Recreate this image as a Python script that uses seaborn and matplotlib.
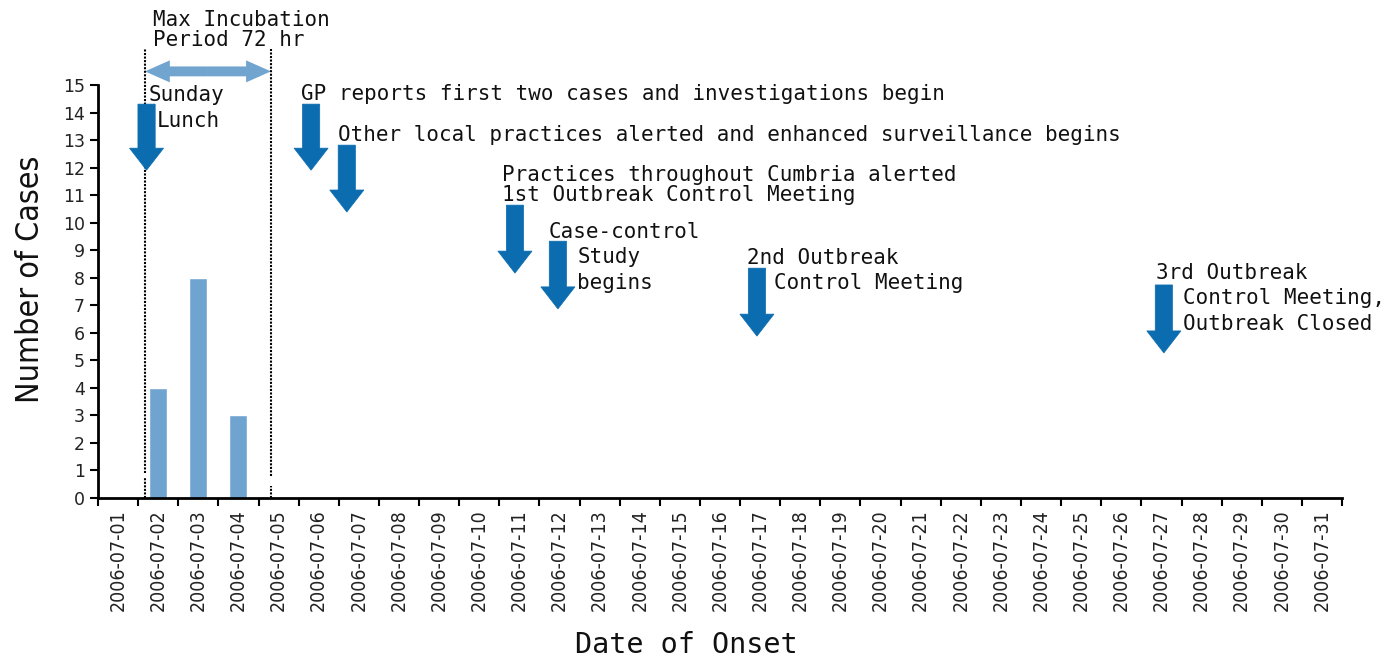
import pandas as pd
import matplotlib
matplotlib.use("Agg")
import matplotlib.pyplot as plt
import seaborn as sns
from matplotlib.patches import FancyArrow

# data
dates = [f"2006-07-{d:02d}" for d in range(1, 32)]
cases = [0, 4, 8, 3] + [0] * 27

# incubation window (category units) and annotation arrows
incub_start, incub_end = 0.67, 3.81
arrow_x = [0.71, 4.81, 5.70, 9.89, 10.96, 15.92, 26.06]
arrow_top = [14.31, 14.31, 12.82, 10.64, 9.33, 8.35, 7.74]
arrow_tip = [11.91, 11.91, 10.39, 8.17, 6.87, 5.88, 5.27]

labels = [
    (0.87, 17.36, "Max Incubation"),
    (0.87, 16.64, "Period 72 hr"),
    (0.77, 14.64, "Sunday"),
    (0.97, 13.69, "Lunch"),
    (4.56, 14.67, "GP reports first two cases and investigations begin"),
    (5.48, 13.19, "Other local practices alerted and enhanced surveillance begins"),
    (9.57, 11.73, "Practices throughout Cumbria alerted"),
    (9.57, 11.01, "1st Outbreak Control Meeting"),
    (10.74, 9.66, "Case-control"),
    (11.44, 8.75, "Study"),
    (11.44, 7.81, "begins"),
    (15.67, 8.72, "2nd Outbreak"),
    (16.35, 7.81, "Control Meeting"),
    (25.86, 8.17, "3rd Outbreak"),
    (26.54, 7.26, "Control Meeting,"),
    (26.54, 6.32, "Outbreak Closed"),
]

df = pd.DataFrame({"date": dates, "cases": cases})

sns.set_theme(style="ticks")
mono = ["DejaVu Sans Mono", "DejaVu Sans"]

fig = plt.figure(figsize=(14, 6.6), dpi=100)
ax = fig.add_axes([0.07, 0.2455, 0.8886, 0.6255])

sns.barplot(data=df, x="date", y="cases", color="#70a4d0", width=0.45,
            saturation=1, ax=ax)

ax.set_xlim(-0.5, len(dates) - 0.5)
ax.set_ylim(0, 15)
ax.set_yticks(range(0, 16))
ax.set_xticks([i - 0.5 for i in range(len(dates) + 1)], minor=False)
ax.set_xticklabels([])
ax.set_xticks(range(len(dates)), minor=True)
ax.set_xticklabels(dates, minor=True, rotation=90, fontsize=14,
                   family="DejaVu Sans", fontstretch="condensed", color="#222222")
ax.tick_params(axis="x", which="minor", length=0, pad=8)
ax.tick_params(axis="x", which="major", length=6, width=1.5, color="black")
ax.tick_params(axis="y", length=6, width=1.5, color="black", labelsize=12.5,
               labelcolor="#222222")
for s in ["left", "bottom"]:
    ax.spines[s].set_linewidth(2)
    ax.spines[s].set_color("black")
sns.despine(ax=ax)

ax.set_xlabel("Date of Onset", fontsize=20.5, family=mono, color="#111111")
ax.xaxis.set_label_coords(0.4727, -0.356)
ax.xaxis.label.set_va("center")
ax.set_ylabel("Number of Cases", fontsize=23, family="DejaVu Sans",
              fontstretch="condensed", color="#111111")
ax.yaxis.set_label_coords(-0.0545, 0.53)
ax.yaxis.label.set_va("center")

# incubation window lines (with a small break near the baseline)
for x0, gap in [(incub_start, (0.75, 0.9)), (incub_end, (0.45, 0.8))]:
    for y0, y1 in [(0, gap[0]), (gap[1], 16.3)]:
        ax.plot([x0, x0], [y0, y1], ls=(0, (1, 0.7)), color="black", lw=1.5,
                clip_on=False)

mid = (incub_start + incub_end) / 2
for end in [incub_start, incub_end]:
    ax.add_patch(FancyArrow(mid, 15.5, end - mid, 0, width=0.36, head_width=0.8,
                            head_length=0.62, length_includes_head=True,
                            color="#71a5d0", lw=0, clip_on=False))

for x, top, tip in zip(arrow_x, arrow_top, arrow_tip):
    ax.add_patch(FancyArrow(x, top, 0, tip - top, width=0.43, head_width=0.85,
                            head_length=0.8, length_includes_head=True,
                            facecolor="#0b6cb0", edgecolor="#0b6cb0", lw=0.5,
                            clip_on=False, zorder=3))

for x, y, t in labels:
    ax.text(x, y, t, fontsize=15, family=mono, ha="left", va="center",
            color="#111111", clip_on=False, zorder=4)

fig.savefig("out.png", dpi=100)
